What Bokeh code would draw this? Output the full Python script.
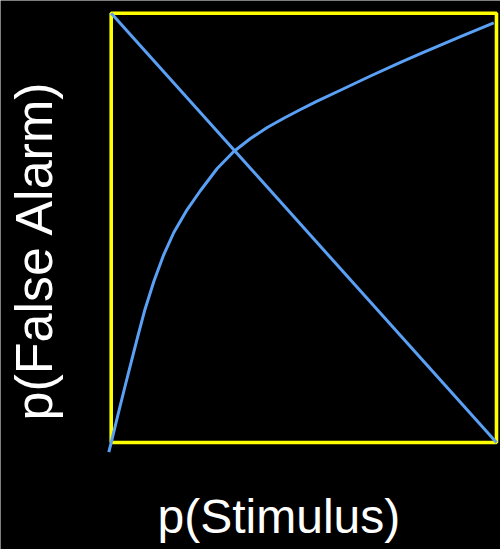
import math
from bokeh.plotting import figure
from bokeh.models import Range1d, Label
from bokeh.embed import file_html
from bokeh.resources import INLINE

# Curve (p(Stimulus), p(False Alarm))
curve_x = [-0.0062, 0.0016, 0.0171, 0.0345, 0.0519, 0.0690, 0.0864, 0.1106,
           0.1365, 0.1625, 0.1972, 0.2318, 0.2751, 0.3182, 0.3615, 0.4049,
           0.4480, 0.4913, 0.5346, 0.5907, 0.6730, 0.7508, 0.8028, 0.9066,
           0.9930]
curve_y = [-0.0226, 0.0058, 0.0629, 0.1258, 0.1875, 0.2474, 0.3063, 0.3750,
           0.4379, 0.4892, 0.5427, 0.5870, 0.6382, 0.6778, 0.7081, 0.7338,
           0.7554, 0.7757, 0.7950, 0.8188, 0.8537, 0.8852, 0.9061, 0.9457,
           0.9776]

# Diagonal
diag_x = [0.0, 1.0]
diag_y = [1.0, 0.0]

# Unit box
box_x = [0, 1, 1, 0, 0]
box_y = [0, 0, 1, 1, 0]

x_label = "p(Stimulus)"
y_label = "p(False Alarm)"

p = figure(width=500, height=549, output_backend="svg", toolbar_location=None,
           x_range=Range1d(-0.2873, 1.0104), y_range=Range1d(-0.2492, 1.0296),
           min_border_left=0, min_border_right=0, min_border_top=0,
           min_border_bottom=0)
p.background_fill_color = "black"
p.border_fill_color = "black"
p.outline_line_color = None
p.outline_line_alpha = 0
p.xgrid.visible = False
p.ygrid.visible = False
p.xaxis.visible = False
p.yaxis.visible = False

p.line(box_x, box_y, line_color="#FFFF00", line_width=3.6)
p.line(diag_x, diag_y, line_color="#5AA0F5", line_width=3)
p.line(curve_x, curve_y, line_color="#5AA0F5", line_width=3,
       line_join="round")

lb = Label(x=0.1202, y=-0.1724, text=x_label, text_align="left",
           text_baseline="alphabetic", text_font="Liberation Sans",
           text_font_size="48px", text_color="white")
p.add_layout(lb)
ll = Label(x=-0.1998, y=0.0512, text=y_label, angle=math.pi / 2,
           text_align="left", text_baseline="alphabetic",
           text_font="Liberation Sans", text_font_size="52px",
           text_color="white")
p.add_layout(ll)

html = file_html(p, INLINE)
html = html.replace("<body>", '<body style="background-color:black;">', 1)
open("out.html", "w").write(html)
